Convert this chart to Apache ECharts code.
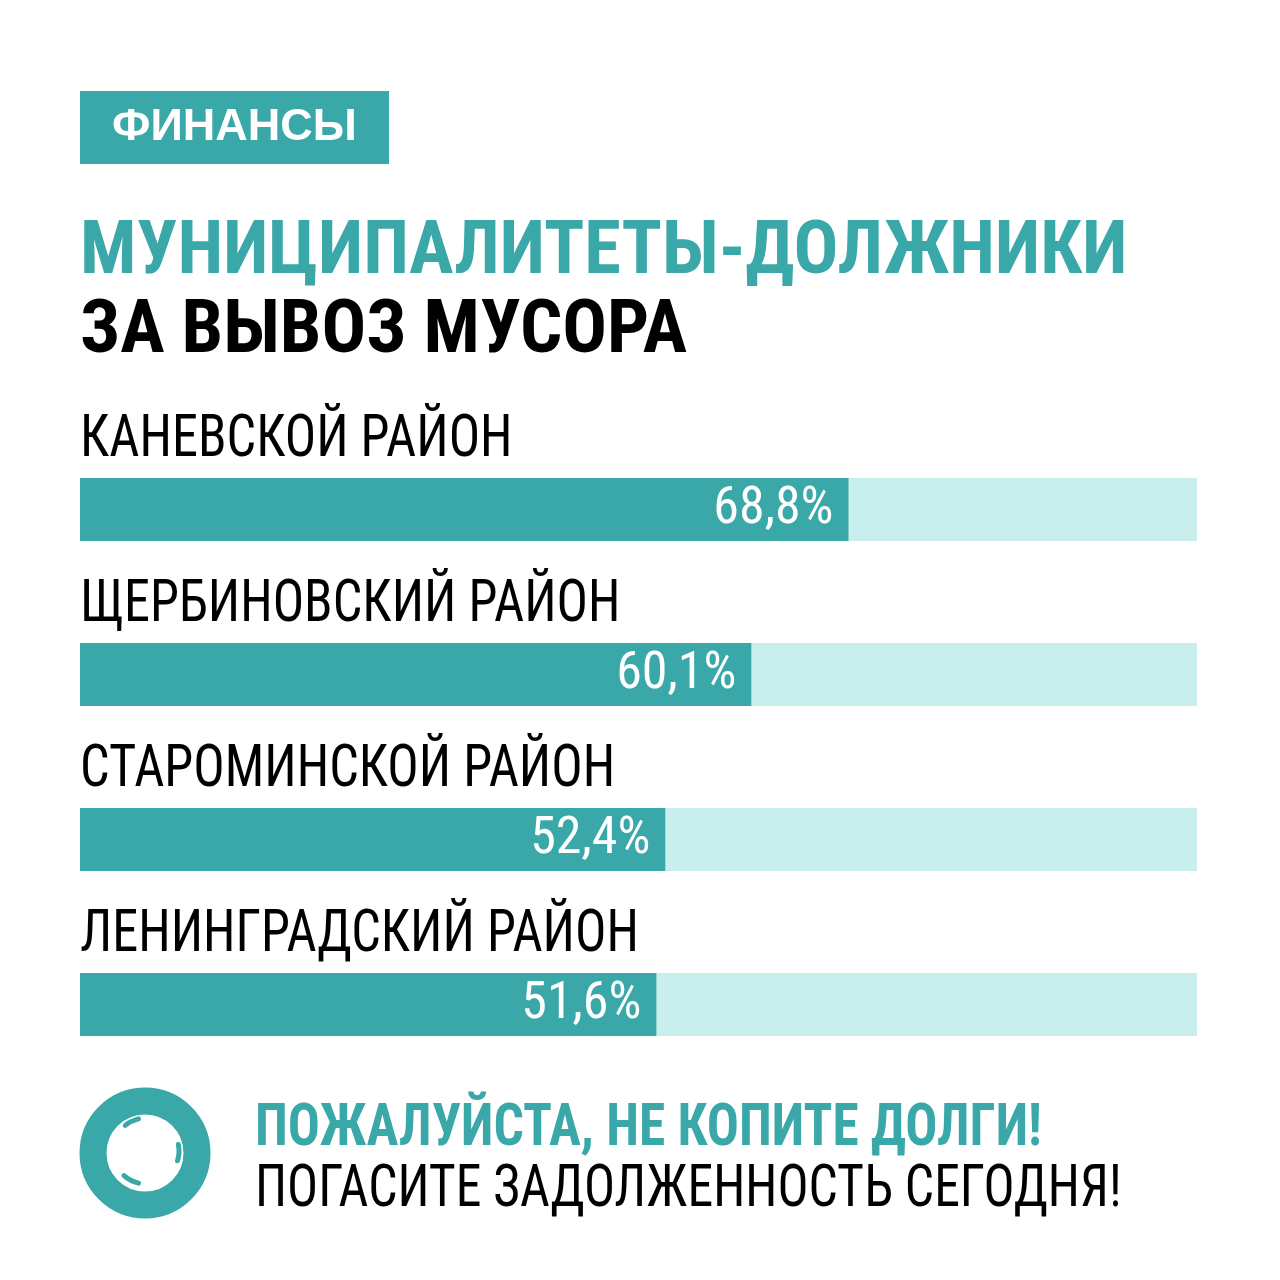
<!DOCTYPE html>
<html><head><meta charset="utf-8">
<script src="https://cdn.jsdelivr.net/npm/echarts@6/dist/echarts.min.js"></script>
<style>html,body{margin:0;padding:0;background:#fff}#c{width:1280px;height:1280px}</style>
</head><body><div id="c"></div>
<script>
var categories = ['КАНЕВСКОЙ РАЙОН', 'ЩЕРБИНОВСКИЙ РАЙОН', 'СТАРОМИНСКОЙ РАЙОН', 'ЛЕНИНГРАДСКИЙ РАЙОН'];
var values = [68.8, 60.1, 52.4, 51.6];
var axisMax = 100;

var TEAL = '#3aa8a9';
var LIGHT = '#c9eeee';
var COND = '"Roboto Condensed", Roboto, sans-serif';

var chart = echarts.init(document.getElementById('c'));
chart.setOption({
  backgroundColor: '#ffffff',
  animation: false,
  grid: { left: 80, right: 83, top: 427, height: 660, containLabel: false },
  xAxis: { type: 'value', min: 0, max: axisMax, show: false },
  yAxis: {
    type: 'category', data: categories, inverse: true,
    axisLine: { show: false }, axisTick: { show: false }, splitLine: { show: false },
    axisLabel: { show: false }
  },
  series: [{
    type: 'bar', data: values, barWidth: 63,
    itemStyle: { color: TEAL },
    showBackground: true,
    backgroundStyle: { color: LIGHT },
    label: {
      show: true, position: 'insideRight', distance: 15,
      formatter: function (p) { return String(p.value).replace('.', ',') + '%'; },
      fontFamily: COND, fontSize: 52, fontWeight: 'normal', color: '#ffffff'
    }
  }, {
    type: 'custom',
    data: categories.map(function (c, i) { return [0, c]; }),
    encode: { x: 0, y: 1 },
    silent: true,
    renderItem: function (params, api) {
      var p = api.coord([0, api.value(1)]);
      return {
        type: 'text', x: p[0], y: p[1] - 39, scaleX: 0.872,
        style: {
          text: categories[params.dataIndex],
          font: 'normal 60px ' + COND, fill: '#000000',
          verticalAlign: 'bottom', lineHeight: 60
        }
      };
    }
  }],
  graphic: [
    { type: 'rect', shape: { x: 80, y: 91, width: 309, height: 73 }, style: { fill: TEAL } },
    { type: 'text', x: 234.5, y: 128, style: { text: 'ФИНАНСЫ', font: 'bold 45px "Liberation Sans", Arial, sans-serif', fill: '#ffffff', align: 'center', verticalAlign: 'middle' } },
    { type: 'text', x: 80, y: 254, scaleX: 0.993, style: { text: 'МУНИЦИПАЛИТЕТЫ-ДОЛЖНИКИ', font: 'bold 75px ' + COND, fill: TEAL, verticalAlign: 'middle' } },
    { type: 'text', x: 80, y: 333, scaleX: 0.99, style: { text: 'ЗА ВЫВОЗ МУСОРА', font: 'bold 75px ' + COND, fill: '#000000', verticalAlign: 'middle' } },
    { type: 'circle', shape: { cx: 145, cy: 1153, r: 52 }, style: { fill: 'none', stroke: TEAL, lineWidth: 27 } },
    { type: 'arc', shape: { cx: 146, cy: 1151, r: 33, startAngle: -2.25, endAngle: -1.8 }, style: { stroke: TEAL, lineWidth: 5, fill: 'none', lineCap: 'round' } },
    { type: 'arc', shape: { cx: 146, cy: 1151, r: 33, startAngle: -0.2, endAngle: 0.3 }, style: { stroke: TEAL, lineWidth: 5, fill: 'none', lineCap: 'round' } },
    { type: 'arc', shape: { cx: 146, cy: 1151, r: 33, startAngle: 1.8, endAngle: 2.3 }, style: { stroke: TEAL, lineWidth: 5, fill: 'none', lineCap: 'round' } },
    { type: 'text', x: 255, y: 1130, scaleX: 0.905, style: { text: 'ПОЖАЛУЙСТА, НЕ КОПИТЕ ДОЛГИ!', font: 'bold 59px ' + COND, fill: TEAL, verticalAlign: 'middle' } },
    { type: 'text', x: 255, y: 1191, scaleX: 0.877, style: { text: 'ПОГАСИТЕ ЗАДОЛЖЕННОСТЬ СЕГОДНЯ!', font: 'normal 59px ' + COND, fill: '#000000', verticalAlign: 'middle' } }
  ]
});
</script></body></html>
